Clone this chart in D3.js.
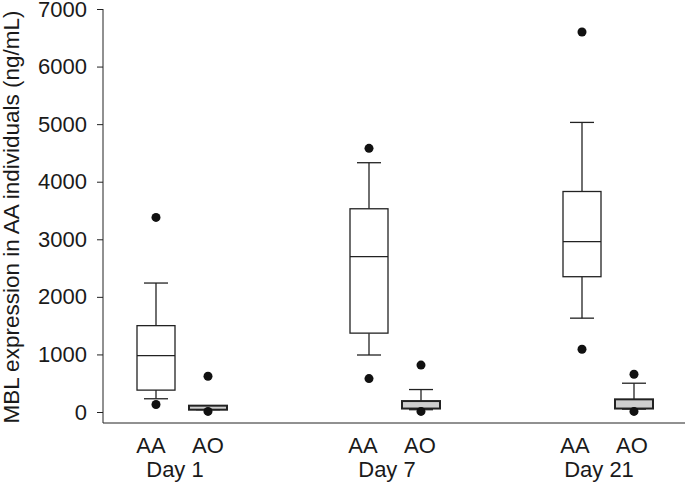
<!DOCTYPE html>
<html>
<head>
<meta charset="utf-8">
<script src="https://cdn.jsdelivr.net/npm/d3@7"></script>
<style>
  body { margin: 0; background: #fff; }
  svg text { font-family: "Liberation Sans", Arial, sans-serif; fill: #1a1a1a; }
</style>
</head>
<body>
<div id="chart"></div>
<script>
const days = ['Day 1', 'Day 7', 'Day 21'];
const groups = ['AA', 'AO'];
const yTicks = [0, 1000, 2000, 3000, 4000, 5000, 6000, 7000];

// per box: [lowWhisker, q1, median, q3, highWhisker]
const boxStats = [
  [230, 380, 980, 1500, 2240],   // Day 1 AA
  [40, 40, 80, 110, 110],         // Day 1 AO
  [990, 1370, 2700, 3530, 4330], // Day 7 AA
  [40, 60, 110, 190, 390],        // Day 7 AO
  [1630, 2350, 2960, 3830, 5030], // Day 21 AA
  [50, 60, 140, 220, 500]         // Day 21 AO
];
const outliers = [
  [3380, 130],
  [620, 10],
  [4580, 580],
  [815, 10],
  [6600, 1090],
  [655, 10]
];

const width = 685, height = 483;
const svg = d3.select('#chart').append('svg')
  .attr('width', width).attr('height', height);

const y = d3.scaleLinear().domain([0, 7000]).range([412, 9]);
const xDay = d3.scaleBand().domain(days).range([75.5, 714.5]);
const xGroup = d3.scalePoint().domain(groups).range([-26, 26]);
// labels sit a little left of the boxes in the original
const xDayLabel = d3.scaleBand().domain(days).range([69, 705]);
const xGroupLabel = d3.scalePoint().domain(groups).range([-24, 33]);

const axisX = 103, axisBottom = 423;

// Y axis
const yAxis = svg.append('g')
  .attr('transform', `translate(${axisX},0)`)
  .call(d3.axisLeft(y).tickValues(yTicks).tickSize(6).tickPadding(10).tickFormat(d3.format('d')));
yAxis.select('.domain').remove();
yAxis.selectAll('line').attr('stroke', '#222');
yAxis.selectAll('text').style('font-size', '22px').attr('fill', '#1a1a1a');

svg.append('line')
  .attr('x1', axisX).attr('x2', axisX)
  .attr('y1', y(7000)).attr('y2', axisBottom)
  .attr('stroke', '#222');
svg.append('line')
  .attr('x1', axisX).attr('x2', width)
  .attr('y1', axisBottom).attr('y2', axisBottom)
  .attr('stroke', '#222');

// Y title
svg.append('text')
  .attr('transform', `translate(19,217) rotate(-90)`)
  .attr('text-anchor', 'middle')
  .style('font-size', '22.5px')
  .text('MBL expression in AA individuals (ng/mL)');

const boxW = 38, capW = 24;

const boxes = [];
days.forEach((d, i) => groups.forEach((g, j) => {
  const k = i * groups.length + j;
  boxes.push({ day: d, group: g, s: boxStats[k], out: outliers[k],
    cx: xDay(d) + xDay.bandwidth() / 2 + xGroup(g),
    lx: xDayLabel(d) + xDayLabel.bandwidth() / 2 + xGroupLabel(g) });
}));

const bg = svg.selectAll('g.box').data(boxes).enter().append('g').attr('class', 'box');

// whiskers
bg.append('line')
  .attr('x1', b => b.cx).attr('x2', b => b.cx)
  .attr('y1', b => y(b.s[4])).attr('y2', b => y(b.s[3]))
  .attr('stroke', '#222').attr('stroke-width', 1.3);
bg.append('line')
  .attr('x1', b => b.cx).attr('x2', b => b.cx)
  .attr('y1', b => y(b.s[1])).attr('y2', b => y(b.s[0]))
  .attr('stroke', '#222').attr('stroke-width', 1.3);
bg.append('line')
  .attr('x1', b => b.cx - capW / 2).attr('x2', b => b.cx + capW / 2)
  .attr('y1', b => y(b.s[4])).attr('y2', b => y(b.s[4]))
  .attr('stroke', '#222').attr('stroke-width', 1.3);
bg.append('line')
  .attr('x1', b => b.cx - capW / 2).attr('x2', b => b.cx + capW / 2)
  .attr('y1', b => y(b.s[0])).attr('y2', b => y(b.s[0]))
  .attr('stroke', '#222').attr('stroke-width', 1.3);

// box
bg.append('rect')
  .attr('x', b => b.cx - boxW / 2)
  .attr('y', b => y(b.s[3]))
  .attr('width', boxW)
  .attr('height', b => Math.max(3, y(b.s[1]) - y(b.s[3])))
  .attr('fill', b => b.group === 'AO' ? '#cfcfcf' : '#fff')
  .attr('stroke', '#222')
  .attr('stroke-width', b => b.group === 'AO' ? 2 : 1.3);
bg.filter(b => b.group === 'AA').append('line')
  .attr('x1', b => b.cx - boxW / 2).attr('x2', b => b.cx + boxW / 2)
  .attr('y1', b => y(b.s[2])).attr('y2', b => y(b.s[2]))
  .attr('stroke', '#222').attr('stroke-width', 1.3);

// outliers
bg.selectAll('circle').data(b => b.out.map(v => ({ cx: b.cx, v })))
  .enter().append('circle')
  .attr('cx', o => o.cx).attr('cy', o => y(o.v))
  .attr('r', 4.5).attr('fill', '#111');

// x labels
bg.append('text')
  .attr('x', b => b.lx).attr('y', 453)
  .attr('text-anchor', 'middle')
  .style('font-size', '22px')
  .text(b => b.group);
svg.selectAll('text.day').data(days).enter().append('text')
  .attr('class', 'day')
  .attr('x', d => xDayLabel(d) + xDayLabel.bandwidth() / 2)
  .attr('y', 477)
  .attr('text-anchor', 'middle')
  .style('font-size', '22px')
  .text(d => d);
</script>
</body>
</html>
